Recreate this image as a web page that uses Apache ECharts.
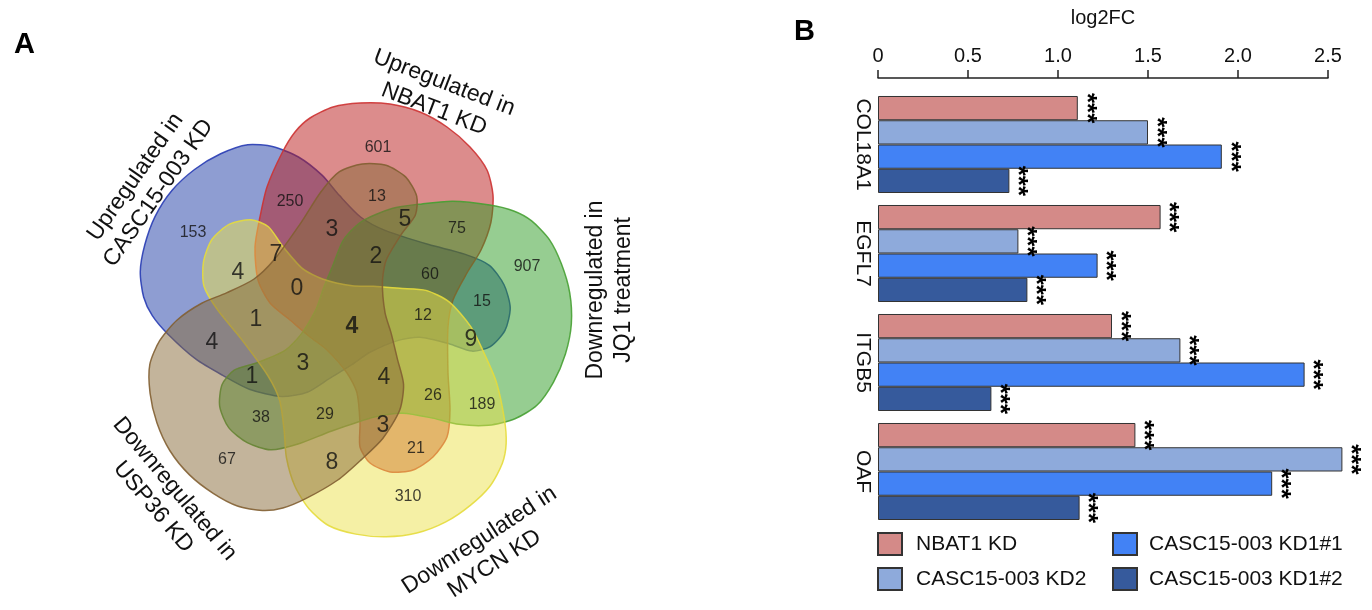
<!DOCTYPE html>
<html><head><meta charset="utf-8">
<script src="https://cdn.jsdelivr.net/npm/echarts@6/dist/echarts.min.js"></script>
<style>html,body{margin:0;padding:0;background:#fff}#c{width:1372px;height:610px}</style>
</head><body><div id="c"></div>
<script>
// ---------- data: panel B ----------
const genes = ['COL18A1', 'EGFL7', 'ITGB5', 'OAF'];
const seriesNames = ['NBAT1 KD', 'CASC15-003 KD2', 'CASC15-003 KD1#1', 'CASC15-003 KD1#2'];
const nbat1KD = [1.11, 1.57, 1.30, 1.43];
const casc15KD2 = [1.50, 0.78, 1.68, 2.58];
const casc15KD1n1 = [1.91, 1.22, 2.37, 2.19];
const casc15KD1n2 = [0.73, 0.83, 0.63, 1.12];
const significance = '***';
const xTickLabels = ['0', '0.5', '1.0', '1.5', '2.0', '2.5'];

// ---------- data: panel A (5-set Venn) ----------
const vennSetNames = ['Upregulated in\nCASC15-003 KD', 'Upregulated in\nNBAT1 KD', 'Downregulated in\nJQ1 treatment', 'Downregulated in\nMYCN KD', 'Downregulated in\nUSP36 KD'];
const vennCounts = [601, 250, 153, 13, 3, 5, 75, 907, 7, 2, 4, 60, 0, 15, 12, 1, 4, 9, 4, 3, 1, 4, 26, 189, 38, 29, 3, 21, 67, 8, 310];

// ---------- layout (not data) ----------
const vennLabelXY = [[378,148],[290,202],[193,233],[377,197],[332,230],[405,220],[457,229],[527,267],[276,255],[376,257],[238,273],[430,275],[297,289],[482,302],[423,316],[256,320],[352,327],[471,340],[212,343],[303,364],[252,377],[384,378],[433,396],[482,405],[261,418],[325,415],[383,426],[416,449],[227,460],[332,463],[408,497]];
const vennBoldIndex = 16;
const C = [350, 322];
const lobeTemplate = [[282,153],[295,132],[310,118],[333,107],[360,103],[390,104],[420,112],[447,127],[470,147],[487,170],[493,195],[491,222],[481,250],[467,273],[453,300],[448,327],[448,373],[450,410],[447,437],[433,457],[413,470],[390,472],[370,463],[360,447],[360,423],[357,393],[347,373],[327,350],[310,337],[290,320],[270,303],[258,280],[255,247],[260,217],[267,187]];
// draw order: blue, red, green, yellow, brown ; rotation step from red template
const vennShapes = [
  {step: 4, fill: 'rgba(29,59,165,0.5)', stroke: 'rgba(40,60,180,0.9)'},
  {step: 0, fill: 'rgba(185,25,25,0.5)', stroke: 'rgba(205,50,50,0.9)'},
  {step: 1, fill: 'rgba(45,155,35,0.5)', stroke: 'rgba(70,160,50,0.9)'},
  {step: 2, fill: 'rgba(235,225,75,0.5)', stroke: 'rgba(230,220,60,0.9)'},
  {step: 3, fill: 'rgba(135,105,55,0.5)', stroke: 'rgba(130,95,50,0.9)'}
];
const setLabelLayout = [
  {x: 147, y: 185, rot: 55},
  {x: 439, y: 96, rot: -21},
  {x: 610, y: 290, rot: 90},
  {x: 487, y: 552, rot: 33},
  {x: 164, y: 498, rot: -50}
];

const FONT = "'Liberation Sans', Arial, Helvetica, sans-serif";
const chart = echarts.init(document.getElementById('c'), null, {renderer: 'canvas'});

const barColors = ['#d48a88', '#8eaadb', '#4282f5', '#365a9c'];
const barValues = [nbat1KD, casc15KD2, casc15KD1n1, casc15KD1n2];

const barSeries = barValues.map((vals, i) => ({
  name: seriesNames[i],
  type: 'bar',
  xAxisIndex: 0, yAxisIndex: 0,
  data: vals,
  clip: false,
  barGap: '0%',
  barCategoryGap: '11%',
  itemStyle: {color: barColors[i], borderColor: '#333', borderWidth: 1},
  label: {
    show: true, position: 'right', distance: 8, rotate: -90,
    formatter: significance, fontSize: 26, fontWeight: 'bold', color: '#000',
    align: 'center', verticalAlign: 'middle', fontFamily: FONT
  }
}));

const graphics = [
  {type: 'text', left: 14, top: 30, style: {text: 'A', font: 'bold 29px ' + FONT, fill: '#000'}},
  {type: 'text', left: 794, top: 17, style: {text: 'B', font: 'bold 29px ' + FONT, fill: '#000'}}
];
vennSetNames.forEach((name, i) => {
  const L = setLabelLayout[i];
  graphics.push({
    type: 'text', x: L.x, y: L.y, rotation: L.rot * Math.PI / 180, silent: true,
    style: {text: name, fontSize: 23, fontFamily: FONT, fill: '#111', align: 'center', verticalAlign: 'middle', lineHeight: 28}
  });
});

const option = {
  animation: false,
  textStyle: {fontFamily: FONT},
  grid: [
    {left: 878, top: 90, width: 450, height: 436, containLabel: false, outerBoundsMode: 'none'},
    {left: 0, top: 0, width: 800, height: 610, containLabel: false, outerBoundsMode: 'none'}
  ],
  xAxis: [
    {
      type: 'value', gridIndex: 0, position: 'top', min: 0, max: 2.5, interval: 0.5, offset: 12,
      name: 'log2FC', nameLocation: 'middle', nameGap: 50,
      nameTextStyle: {fontSize: 20, color: '#111', fontFamily: FONT},
      axisLine: {show: true, lineStyle: {color: '#222', width: 1.5}},
      axisTick: {show: true, length: 8, inside: false, lineStyle: {color: '#222', width: 1.5}},
      axisLabel: {fontSize: 20, color: '#111', margin: 12, fontFamily: FONT,
        formatter: v => xTickLabels[Math.round(v / 0.5)]},
      splitLine: {show: false}
    },
    {type: 'value', gridIndex: 1, min: 0, max: 800, show: false}
  ],
  yAxis: [
    {
      type: 'category', gridIndex: 0, data: genes, inverse: true,
      axisLine: {show: false}, axisTick: {show: false},
      axisLabel: {interval: 0, hideOverlap: false, rotate: -90, fontSize: 21, color: '#111', margin: 5, align: 'center', verticalAlign: 'top', fontFamily: FONT}
    },
    {type: 'value', gridIndex: 1, min: 0, max: 610, inverse: true, show: false}
  ],
  legend: [
    {data: [seriesNames[0], seriesNames[1]], orient: 'vertical', left: 872, top: 527, itemWidth: 24, itemHeight: 22, itemGap: 11,
      icon: 'rect', selectedMode: false, textStyle: {fontSize: 21, color: '#111', padding: [0, 0, 0, 9], fontFamily: FONT}},
    {data: [seriesNames[2], seriesNames[3]], orient: 'vertical', left: 1107, top: 527, itemWidth: 24, itemHeight: 22, itemGap: 11,
      icon: 'rect', selectedMode: false, textStyle: {fontSize: 21, color: '#111', padding: [0, 0, 0, 7], fontFamily: FONT}}
  ],
  graphic: graphics,
  series: [
    ...barSeries,
    {
      type: 'custom', name: 'vennSets', xAxisIndex: 1, yAxisIndex: 1, silent: true, clip: false,
      data: vennShapes.map((s, i) => [s.step, i]),
      encode: {x: 0, y: 1},
      renderItem: function (params, api) {
        const s = vennShapes[params.dataIndex];
        const a = s.step * 72 * Math.PI / 180;
        const cs = Math.cos(a), sn = Math.sin(a);
        const pts = lobeTemplate.map(p => {
          const dx = p[0] - C[0], dy = p[1] - C[1];
          return api.coord([C[0] + dx * cs - dy * sn, C[1] + dx * sn + dy * cs]);
        });
        return {type: 'polygon', shape: {points: pts, smooth: 0.25},
          style: {fill: s.fill, stroke: s.stroke, lineWidth: 1.5}};
      },
      z: 1
    },
    {
      type: 'scatter', name: 'vennCounts', xAxisIndex: 1, yAxisIndex: 1, silent: true,
      symbolSize: 1, itemStyle: {color: 'rgba(0,0,0,0)'},
      data: vennCounts.map((v, i) => ({
        value: [vennLabelXY[i][0], vennLabelXY[i][1], v],
        label: {fontSize: v >= 10 ? 16 : 23, fontWeight: i === vennBoldIndex ? 'bold' : 'normal'}
      })),
      label: {show: true, position: 'inside', formatter: p => String(p.value[2]), color: '#111', fontFamily: FONT},
      z: 5
    }
  ]
};
chart.setOption(option);
</script>
</body></html>
